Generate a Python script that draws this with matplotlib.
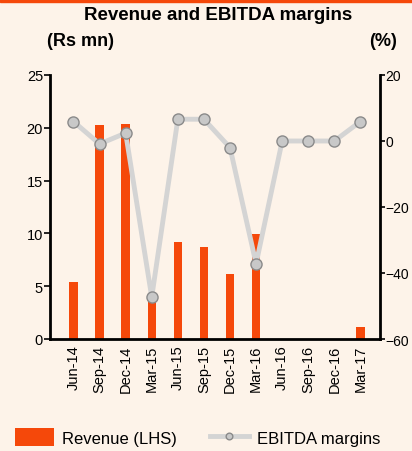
import matplotlib.pyplot as plt
import numpy as np

plt.rcParams['font.family'] = ['Liberation Sans', 'DejaVu Sans']

# dati
quarters = ['Jun-14', 'Sep-14', 'Dec-14', 'Mar-15', 'Jun-15', 'Sep-15', 'Dec-15',
            'Mar-16', 'Jun-16', 'Sep-16', 'Dec-16', 'Mar-17']
revenue = [5.4, 20.3, 20.4, 4.2, 9.2, 8.7, 6.2, 9.9, 0, 0, 0, 1.1]
ebitda_margin = [5.9, -0.9, 2.4, -47.3, 6.6, 6.6, -2.0, -37.2, 0, 0, 0, 5.9]

bg = '#FDF3E9'
orange = '#F5480A'

fig = plt.figure(figsize=(4.12, 4.52), dpi=100, facecolor=bg)
ax = fig.add_axes([50/412, 1 - 340/452, 330/412, 264/452])
ax.set_facecolor(bg)

x = np.arange(len(quarters))
ax.bar(x, revenue, width=0.32, color=orange, zorder=2, label='Revenue (LHS)')
ax.set_ylim(0, 25)
ax.set_xlim(-0.9, len(quarters) - 0.25)
ax.set_yticks([0, 5, 10, 15, 20, 25])
ax.set_xticks(x)
ax.set_xticklabels(quarters, rotation=90, fontsize=10.5)

ax2 = ax.twinx()
ax2.plot(x, ebitda_margin, color='#D4D4D4', lw=3.5, marker='o', ms=8,
         mfc='#C8C8C8', mec='#8A8A8A', mew=1, zorder=3, label='EBITDA margins')
ax2.set_ylim(-60, 20)
ax2.set_yticks([-60, -40, -20, 0, 20])

for a in (ax, ax2):
    for s in a.spines.values():
        s.set_visible(False)
    a.tick_params(axis='y', labelsize=10.5, length=4, width=1.2, pad=1, colors='black')
    a.tick_params(axis='x', length=0, pad=4)
ax2.tick_params(axis='y', labelsize=10, length=3.5, pad=0.5)
ax.spines['left'].set_visible(True)
ax.spines['left'].set_linewidth(2)
ax.spines['bottom'].set_visible(True)
ax.spines['bottom'].set_linewidth(2)
ax2.spines['right'].set_visible(True)
ax2.spines['right'].set_linewidth(2)

# titoli
fig.text(218/412, 1 - 16/452, 'Revenue and EBITDA margins', ha='center', va='center',
         fontsize=13.5, fontweight='bold')
fig.text(47/412, 1 - 42/452, '(Rs mn)', ha='left', va='center', fontsize=13, fontweight='bold')
fig.text(397/412, 1 - 42/452, '(%)', ha='right', va='center', fontsize=13, fontweight='bold')

# barra arancione in alto
fig.patches.append(plt.Rectangle((0, 1 - 3/452), 1, 3/452, transform=fig.transFigure,
                                 color=orange, zorder=5))

# legenda
h1, l1 = ax.get_legend_handles_labels()
h2, l2 = ax2.get_legend_handles_labels()
fig.legend(h1 + h2, l1 + l2, loc='center', bbox_to_anchor=(0.48, 1 - 438/452), ncol=2,
           frameon=False, fontsize=12, handlelength=2.3, handleheight=1.2,
           handletextpad=0.5, columnspacing=2.0, markerscale=0.6)

fig.savefig('out.png', dpi=100, facecolor=bg)
